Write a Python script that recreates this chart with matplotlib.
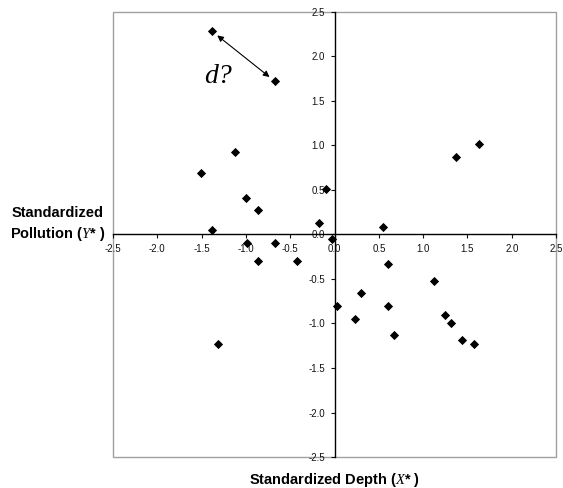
import numpy as np
import matplotlib
matplotlib.use('Agg')
import matplotlib.pyplot as plt
from matplotlib.patches import Rectangle

plt.rcParams['font.family'] = 'Liberation Sans'
plt.rcParams['mathtext.fontset'] = 'custom'
plt.rcParams['mathtext.it'] = 'Liberation Serif:italic'
plt.rcParams['mathtext.rm'] = 'Liberation Serif'

# standardized depth (x) and pollution (y)
x_std = [-1.385, -0.672, -1.12, -1.51, -0.996, -0.864, -1.385, -0.098, -0.17,
         -0.026, 0.543, 1.374, 1.634, -0.99, -0.672, -0.864, -0.419, 0.608,
         1.117, 0.294, 0.03, 0.604, 0.226, 1.245, 1.313, 0.672, 1.44, 1.57,
         -1.313]
y_std = [2.285, 1.72, 0.93, 0.69, 0.41, 0.27, 0.05, 0.506, 0.13,
         -0.05, 0.086, 0.876, 1.02, -0.097, -0.097, -0.30, -0.30, -0.337,
         -0.524, -0.663, -0.805, -0.805, -0.948, -0.899, -0.989, -1.131, -1.184, -1.228,
         -1.228]
ticks = [-2.5, -2.0, -1.5, -1.0, -0.5, 0.0, 0.5, 1.0, 1.5, 2.0, 2.5]

fig = plt.figure(figsize=(5.63, 4.88), dpi=100)
ax = fig.add_axes([0.2007, 0.0635, 0.787, 0.912])

ax.scatter(x_std, y_std, marker='D', s=22, color='black', zorder=3, linewidths=0)

# the two points joined by the "d?" arrow
ax.annotate('', xy=(x_std[1], y_std[1]), xytext=(x_std[0], y_std[0]),
            arrowprops=dict(arrowstyle='<|-|>', color='black', lw=0.8,
                            mutation_scale=9, shrinkA=5, shrinkB=5))
ax.text(-1.32, 1.77, 'd?', fontsize=20, family='Liberation Serif',
        style='italic', ha='center', va='center')

ax.set_xlim(-2.5, 2.5)
ax.set_ylim(-2.5, 2.5)
ax.set_xticks(ticks)
ax.set_yticks(ticks)
ax.set_xticklabels(['%.1f' % t for t in ticks])
ax.set_yticklabels(['%.1f' % t for t in ticks])
ax.tick_params(labelsize=7, length=3, width=0.8, colors='#111111')
ax.tick_params(axis='x', pad=4)
ax.tick_params(axis='y', pad=4)

ax.spines['left'].set_position('zero')
ax.spines['bottom'].set_position('zero')
ax.spines['left'].set_linewidth(1)
ax.spines['bottom'].set_linewidth(1)
ax.spines['top'].set_visible(False)
ax.spines['right'].set_visible(False)
ax.add_patch(Rectangle((0, 0), 1, 1, transform=ax.transAxes, fill=False,
                       edgecolor='#a0a0a0', lw=1, clip_on=False, zorder=0))

fig.text(0.595, 0.016, r'Standardized Depth ($X$* )', ha='center', va='center',
         fontsize=10.5, fontweight='bold')
fig.text(0.103, 0.54, 'Standardized\n' + r'Pollution ($Y$* )', ha='center',
         va='center', fontsize=10.5, fontweight='bold', linespacing=1.35)

fig.savefig('out.png', dpi=100)
